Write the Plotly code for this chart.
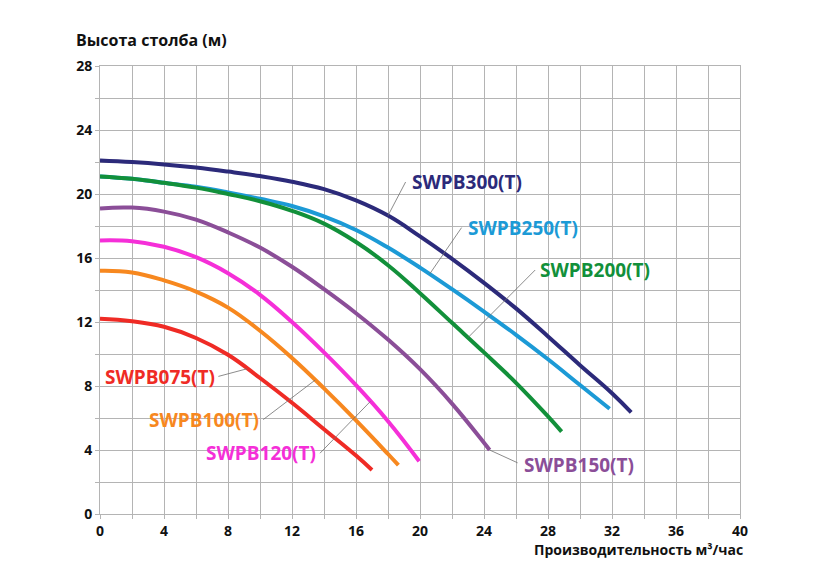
import numpy as np
import plotly.graph_objects as go

# ---------------- data ----------------
names = ["SWPB300(T)", "SWPB250(T)", "SWPB200(T)", "SWPB150(T)",
         "SWPB120(T)", "SWPB100(T)", "SWPB075(T)"]

x_300 = [0, 2, 4, 6, 8, 10, 12, 14, 16, 18, 20, 22, 24, 26, 28, 30, 32, 33.2]
y_300 = [22.1, 22.0, 21.85, 21.65, 21.4, 21.12, 20.77, 20.3, 19.6, 18.65, 17.35, 15.95, 14.45, 12.85, 11.1, 9.3, 7.55, 6.35]

x_250 = [0, 2, 4, 6, 8, 10, 12, 14, 16, 18, 20, 22, 24, 26, 28, 30, 31.85]
y_250 = [21.1, 20.95, 20.7, 20.45, 20.1, 19.7, 19.25, 18.6, 17.75, 16.65, 15.4, 14.05, 12.65, 11.2, 9.67, 8.06, 6.58]

x_200 = [0, 2, 4, 6, 8, 10, 12, 14, 16, 18, 20, 22, 24, 26, 28, 28.85]
y_200 = [21.1, 20.95, 20.7, 20.4, 20.0, 19.55, 18.95, 18.15, 17.0, 15.55, 13.8, 11.95, 10.1, 8.2, 6.1, 5.15]

x_150 = [0, 2, 4, 6, 8, 10, 12, 14, 16, 18, 20, 22, 24, 24.35]
y_150 = [19.1, 19.15, 18.9, 18.4, 17.6, 16.65, 15.45, 14.05, 12.55, 10.9, 9.05, 6.9, 4.45, 4.0]

x_120 = [0, 2, 4, 6, 8, 10, 12, 14, 16, 18, 19.95]
y_120 = [17.1, 17.05, 16.7, 16.05, 15.05, 13.7, 12.0, 10.1, 8.05, 5.8, 3.3]

x_100 = [0, 2, 4, 6, 8, 10, 12, 14, 16, 18, 18.65]
y_100 = [15.2, 15.1, 14.6, 13.9, 12.9, 11.45, 9.75, 7.85, 5.85, 3.75, 3.05]

x_075 = [0, 2, 4, 6, 8, 10, 12, 14, 16, 17]
y_075 = [12.2, 12.05, 11.7, 11.0, 9.95, 8.5, 6.95, 5.3, 3.65, 2.75]

x_ticks = [0, 4, 8, 12, 16, 20, 24, 28, 32, 36, 40]
y_ticks = [0, 4, 8, 12, 16, 20, 24, 28]

x_title = "Производительность м³/час"
y_title = "Высота столба (м)"

# ---------------- styling ----------------
colors = ["#2c2a7a", "#1c9ad6", "#12903a", "#8b4e98", "#f52fd8", "#f7881f", "#ef2b25"]
series = [(x_300, y_300), (x_250, y_250), (x_200, y_200), (x_150, y_150),
          (x_120, y_120), (x_100, y_100), (x_075, y_075)]

# label placement: (x on curve for leader, leader end x, leader end y, text x, text y, anchor)
label_pos = [
    (18.0, 19.1, 20.75, 19.35, 20.75, "left"),
    (20.6, 22.6, 17.9, 22.85, 17.85, "left"),
    (23.0, 27.2, 15.25, 27.35, 15.25, "left"),
    (24.35, 26.1, 3.2, 26.35, 3.05, "left"),
    (16.9, 13.75, 3.8, 13.6, 3.8, "right"),
    (13.45, 10.2, 5.9, 10.05, 5.9, "right"),
    (9.2, 7.4, 8.6, 7.3, 8.56, "right"),
]

FONT = "Open Sans"
fig = go.Figure()

for (xs, ys), c, n in zip(series, colors, names):
    fig.add_trace(go.Scatter(x=xs, y=ys, mode="lines", name=n,
                             line=dict(color=c, width=4, shape="spline", smoothing=1.2),
                             showlegend=False, hoverinfo="skip"))

shapes = []
annotations = []
for (xs, ys), c, n, lp in zip(series, colors, names, label_pos):
    xc, lx, ly, tx, ty, anc = lp
    yc = float(np.interp(xc, xs, ys))
    shapes.append(dict(type="line", xref="x", yref="y", x0=xc, y0=yc, x1=lx, y1=ly,
                       line=dict(color="#6e6e6e", width=0.8), layer="above"))
    annotations.append(dict(x=tx, y=ty, xref="x", yref="y", text=n, showarrow=False,
                            xanchor=anc, yanchor="middle",
                            font=dict(family=FONT, size=19, color=c, weight="bold")))

annotations.append(dict(x=-0.04, y=1.058, xref="paper", yref="paper", text=y_title,
                        showarrow=False, xanchor="left", yanchor="middle",
                        font=dict(family=FONT, size=16, color="#111111", weight="bold")))
annotations.append(dict(x=1.008, y=-0.08, xref="paper", yref="paper", text=x_title,
                        showarrow=False, xanchor="right", yanchor="middle",
                        font=dict(family=FONT, size=14, color="#111111", weight="bold")))

grid_col = "#b4b4b4"
axis_common = dict(showgrid=True, gridcolor=grid_col, gridwidth=1,
                   zeroline=False, showline=True, linecolor=grid_col, linewidth=1, mirror=True,
                   ticks="outside", ticklen=4, tickcolor=grid_col,
                   tickfont=dict(family=FONT, size=14, color="#111111", weight="bold"),
                   minor=dict(dtick=2, showgrid=True, gridcolor=grid_col, gridwidth=1,
                              ticks="outside", ticklen=4, tickcolor=grid_col))

fig.update_layout(
    width=831, height=576,
    margin=dict(l=92, r=99, t=58, b=70),
    paper_bgcolor="white", plot_bgcolor="white",
    xaxis=dict(range=[0, 40], tickvals=x_ticks, ticktext=[str(v) for v in x_ticks], **axis_common),
    yaxis=dict(range=[0, 28], tickvals=y_ticks, ticktext=[str(v) for v in y_ticks], **axis_common),
    shapes=shapes, annotations=annotations,
)

fig.write_html("out.html")
